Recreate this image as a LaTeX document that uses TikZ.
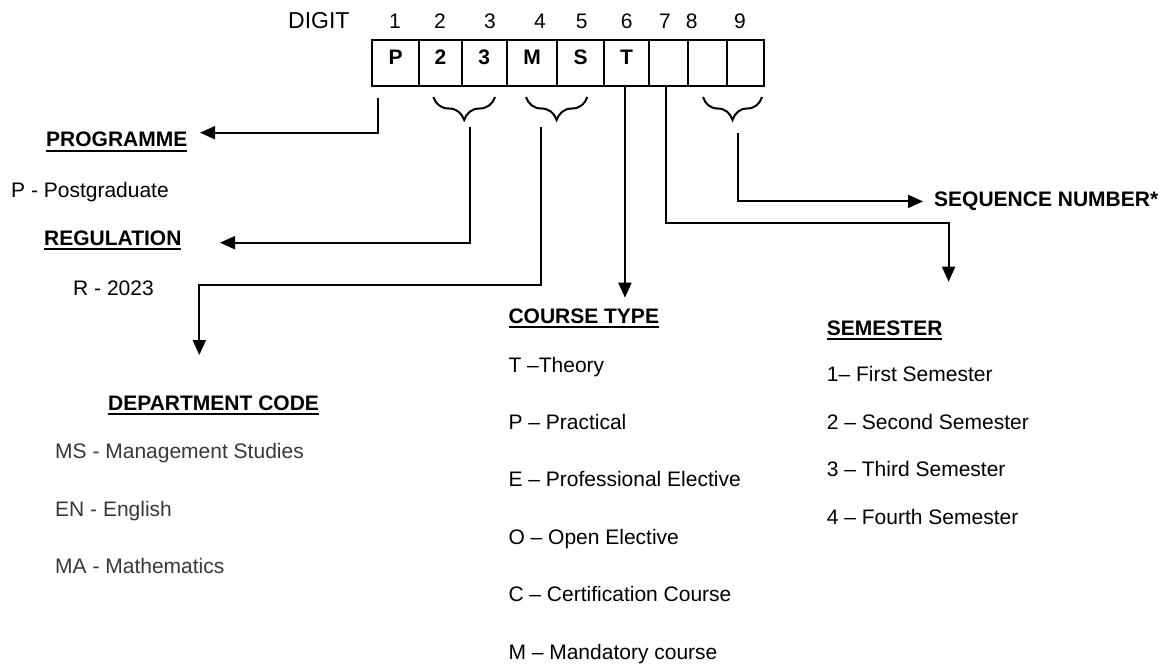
\documentclass[tikz,border=0pt]{standalone}
\usepackage{fontspec}
\setmainfont{Liberation Sans}
\usetikzlibrary{arrows.meta,decorations.pathreplacing}
\newsavebox\headbox
\newcommand\headul[1]{\sbox\headbox{\bfseries #1}\rlap{\rule[-4.6pt]{\wd\headbox}{2pt}}\usebox\headbox}
\tikzset{
  cell/.style={draw,line width=2pt,minimum height=46pt,inner sep=0pt},
  letter/.style={font=\fontsize{21}{25}\selectfont\bfseries,anchor=base,inner sep=0pt},
  txt/.style={anchor=base west,inner sep=0pt},
  link/.style={line width=2pt},
  arr/.style={link,-{Triangle[length=15pt,width=13pt]}},
  brc/.style={line width=2pt,decorate,decoration={brace,mirror,amplitude=23pt}},
}
\begin{document}
\begin{tikzpicture}[x=1pt,y=-1pt,font=\fontsize{21}{25}\selectfont]
\useasboundingbox (0,0) rectangle (1168,666);
\node[txt,font=\fontsize{23}{27}\selectfont] (digit) at (288,28.3) {DIGIT};
\foreach \n/\x in {1/395,2/440,3/490,4/540,5/581.7,6/626.7,7/665,8/691.7,9/740}
  \node[anchor=base,inner sep=0pt] (d\n) at (\x,28.3) {\n};
\foreach \n/\l/\r/\t in {1/371.7/419.3/P,2/419.3/461.7/2,3/461.7/506.7/3,4/506.7/557.3/M,
    5/557.3/604/S,6/604/649.3/T,7/649.3/688.3/{},8/688.3/726.7/{},9/726.7/764/{}}{
  \node[cell,minimum width={\r-\l}] (c\n) at ({(\l+\r)/2},63) {};
  \node[letter] (l\n) at ([yshift=-1.5pt]c\n.center) {\t};
}
% braces under the grouped digits
\draw[brc] (433.3,97) -- (495,97);
\draw[brc] (526,97) -- (587.3,97);
\draw[brc] (703,97) -- (762,97);

% left column
\node[txt] (prog) at (46,147) {\headul{PROGRAMME}};
\node[txt] (pg) at (11,197) {P - Postgraduate};
\node[txt] (reg) at (44,245) {\headul{REGULATION}};
\node[txt] (r23) at (73,295) {R - 2023};
\node[txt] (dept) at (108,410) {\headul{DEPARTMENT CODE}};
\node[txt,text=black!78] (ms) at (55,458) {MS - Management Studies};
\node[txt,text=black!78] (en) at (55,516.7) {EN - English};
\node[txt,text=black!78] (ma) at (55,573) {MA - Mathematics};

% course type column
\node[txt] (ctype) at (508.3,323) {\headul{COURSE TYPE}};
\node[txt] (ct1) at (508.3,372) {T --Theory};
\node[txt] (ct2) at (508.3,429.4) {P -- Practical};
\node[txt] (ct3) at (508.3,486.8) {E -- Professional Elective};
\node[txt] (ct4) at (508.3,544.2) {O -- Open Elective};
\node[txt] (ct5) at (508.3,601.6) {C -- Certification Course};
\node[txt] (ct6) at (508.3,659) {M -- Mandatory course};

% semester column
\node[txt] (sem) at (826.7,335) {\headul{SEMESTER}};
\node[txt] (s1) at (826.7,381.7) {1-- First Semester};
\node[txt] (s2) at (826.7,429.3) {2 -- Second Semester};
\node[txt] (s3) at (826.7,476.7) {3 -- Third Semester};
\node[txt] (s4) at (826.7,524) {4 -- Fourth Semester};
\node[txt,font=\fontsize{21}{25}\selectfont\bfseries] (seq) at (934,206.7) {SEQUENCE NUMBER*};

\coordinate (from-p) at (378.3,98.3);
\coordinate (from-reg) at (470,127);
\coordinate (from-dept) at (540.7,127);
\coordinate (from-seq) at (738.3,133.3);
\coordinate (to-prog) at (200,132.7);
\coordinate (to-reg) at (220,242.7);
\coordinate (to-dept) at (199.3,355);
\coordinate (to-sem) at (948.6,281.7);

\draw[arr] (from-p) |- (to-prog);
\draw[arr] (from-reg) |- (to-reg);
\draw[arr] (from-dept) -- ++(0,158) -| (to-dept);
\draw[arr] ([xshift=-1.7pt]c6.south) -- ++(0,210.7);
\draw[arr] ([xshift=-3.3pt]c7.south) -- ++(0,135.7) -| (to-sem);
\draw[arr] (from-seq) |- ([xshift=-11pt]seq.west);
\end{tikzpicture}
\end{document}
